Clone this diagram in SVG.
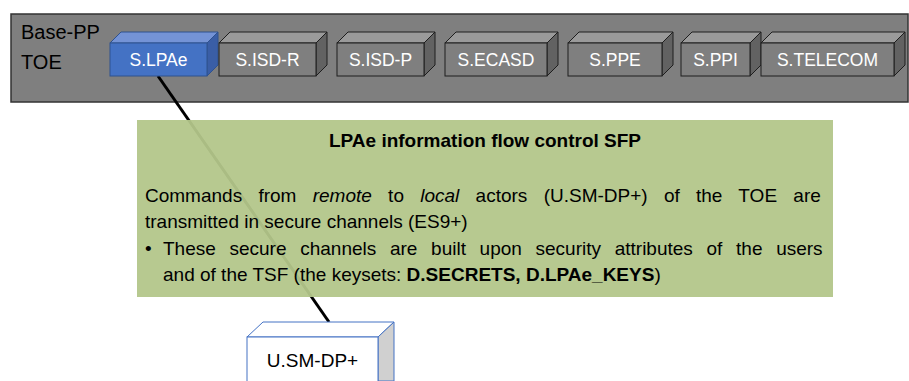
<svg xmlns="http://www.w3.org/2000/svg" width="909" height="381" viewBox="0 0 909 381">
<style>
text { font-family: "Liberation Sans", Arial, sans-serif; }
.lbl { font-size: 17.5px; fill: #ffffff; text-anchor: middle; }
.gf { fill: #7f7f7f; stroke: #1e1e1e; stroke-width: 1; }
.gt { fill: #9a9a9a; stroke: #1e1e1e; stroke-width: 1; }
.gs { fill: #626262; stroke: #1e1e1e; stroke-width: 1; }
.body { font-size: 19px; fill: #000000; }
</style>
<rect width="909" height="381" fill="#ffffff"/>
<g id="base-pp">
  <rect x="11" y="14" width="897" height="88" fill="#7f7f7f" stroke="#333333" stroke-width="1.5"/>
  <text x="21" y="39" style="font-size:20px" fill="#000">Base-PP</text>
  <text x="21" y="69" style="font-size:20px" fill="#000">TOE</text>
</g>
<g id="connectors">
  <line x1="158" y1="76" x2="329" y2="322" stroke="#000" stroke-width="3"/>
</g>
<g id="s-lpae">
  <polygon points="110,43 121,32 218,32 207,43" fill="#7493d6" stroke="#2f528f" stroke-width="1"/>
  <polygon points="207,43 218,32 218,65 207,76" fill="#3a5ea6" stroke="#2f528f" stroke-width="1"/>
  <rect x="110" y="43" width="97" height="33" fill="#4472c4" stroke="#2f528f" stroke-width="1"/>
  <text class="lbl" x="158.5" y="66">S.LPAe</text>
</g>
<g id="s-isd-r">
  <polygon class="gt" points="219,43 230,32 327,32 316,43"/>
  <polygon class="gs" points="316,43 327,32 327,65 316,76"/>
  <rect class="gf" x="219" y="43" width="97" height="33"/>
  <text class="lbl" x="267.5" y="66">S.ISD-R</text>
</g>
<g id="s-isd-p">
  <polygon class="gt" points="337,43 348,32 435,32 424,43"/>
  <polygon class="gs" points="424,43 435,32 435,65 424,76"/>
  <rect class="gf" x="337" y="43" width="87" height="33"/>
  <text class="lbl" x="380.5" y="66">S.ISD-P</text>
</g>
<g id="s-ecasd">
  <polygon class="gt" points="445,43 456,32 558,32 547,43"/>
  <polygon class="gs" points="547,43 558,32 558,65 547,76"/>
  <rect class="gf" x="445" y="43" width="102" height="33"/>
  <text class="lbl" x="496" y="66">S.ECASD</text>
</g>
<g id="s-ppe">
  <polygon class="gt" points="568,43 579,32 673,32 662,43"/>
  <polygon class="gs" points="662,43 673,32 673,65 662,76"/>
  <rect class="gf" x="568" y="43" width="94" height="33"/>
  <text class="lbl" x="615" y="66">S.PPE</text>
</g>
<g id="s-ppi">
  <polygon class="gt" points="681,43 692,32 761,32 750,43"/>
  <polygon class="gs" points="750,43 761,32 761,65 750,76"/>
  <rect class="gf" x="681" y="43" width="69" height="33"/>
  <text class="lbl" x="715.5" y="66">S.PPI</text>
</g>
<g id="s-telecom">
  <polygon class="gt" points="761,43 772,32 905,32 894,43"/>
  <polygon class="gs" points="894,43 905,32 905,65 894,76"/>
  <rect class="gf" x="761" y="43" width="133" height="33"/>
  <text class="lbl" x="827.5" y="66">S.TELECOM</text>
</g>
<g id="sfp-note">
  <rect x="137" y="120" width="696" height="177" fill="#b3c68a" fill-opacity="0.95"/>
  <text x="485" y="147" text-anchor="middle" style="font-size:19px;font-weight:bold" fill="#000">LPAe information flow control SFP</text>
  <text class="body" x="145" y="202" style="word-spacing:11px">Commands from <tspan font-style="italic">remote</tspan> to <tspan font-style="italic">local</tspan> actors (U.SM-DP+) of the TOE are</text>
  <text class="body" x="145" y="228">transmitted in secure channels (ES9+)</text>
  <text class="body" x="145" y="255">•</text>
  <text class="body" x="163" y="255" style="word-spacing:8.4px">These secure channels are built upon security attributes of the users</text>
  <text class="body" x="163" y="281">and of the TSF (the keysets: <tspan font-weight="bold">D.SECRETS, D.LPAe_KEYS</tspan>)</text>
</g>
<g id="u-sm-dp">
  <polygon points="247,337 263,322 394,322 378,337" fill="#ffffff" stroke="#4472c4" stroke-width="1"/>
  <polygon points="378,337 394,322 394,381 378,381" fill="#d0d0d0" stroke="#4472c4" stroke-width="1"/>
  <rect x="247" y="337" width="131" height="50" fill="#ffffff" stroke="#4472c4" stroke-width="1"/>
  <text x="312.5" y="367" text-anchor="middle" style="font-size:19px" fill="#000">U.SM-DP+</text>
</g>
</svg>
